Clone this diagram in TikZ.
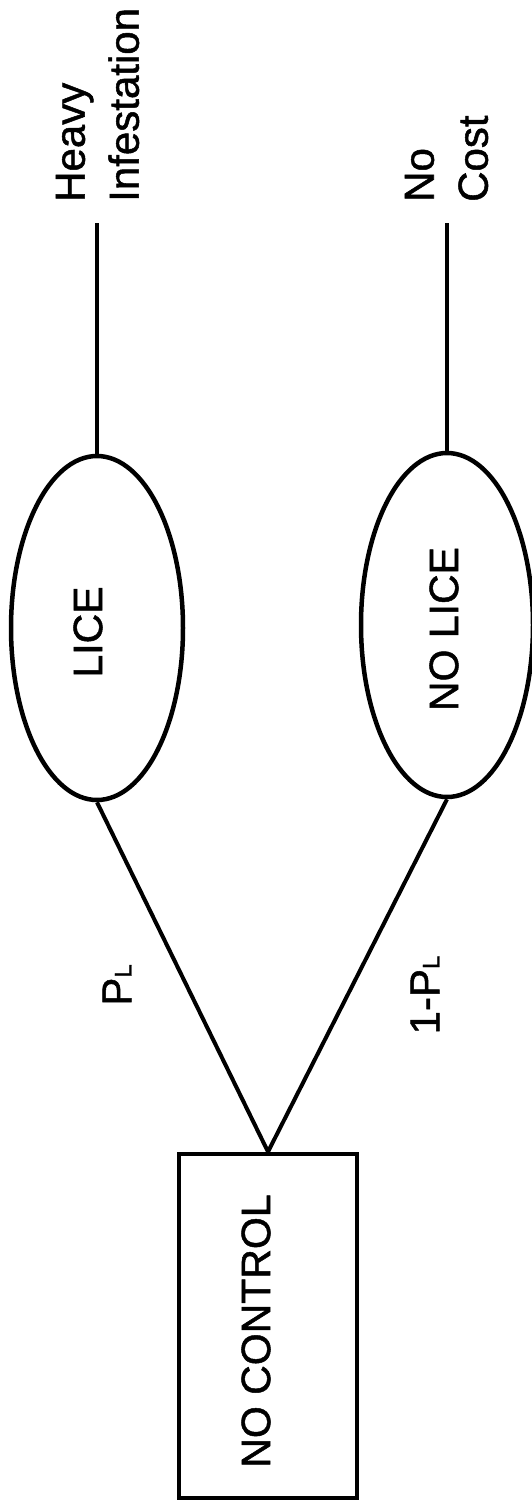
\documentclass[tikz,border=0pt]{standalone}
\usepackage{fontspec}
\setmainfont[FakeBold=1.2]{Liberation Sans}
\usetikzlibrary{shapes.geometric}
\begin{document}
\begin{tikzpicture}[x=1pt,y=-1pt,
  conn/.style={line width=4pt},
  chance/.style={draw,ellipse,line width=4.5pt,minimum width=172pt,minimum height=344pt,inner sep=0pt},
  decision/.style={draw,rectangle,line width=4.5pt,minimum width=178pt,minimum height=344pt,inner sep=0pt},
  lbl/.style={rotate=90,inner sep=0pt,font=\fontsize{41}{50}\selectfont},
  prob/.style={rotate=90,inner sep=0pt,font=\fontsize{42}{50}\selectfont},
  outcome/.style={rotate=90,inner sep=0pt,anchor=west,align=left,font=\fontsize{42}{54}\selectfont}]
\useasboundingbox (0,0) rectangle (532,1505);
% decision node
\node[decision] (nc) at (268,1326) {};
\node[lbl] (nctext) at (256,1331) {NO CONTROL};
% chance nodes
\node[chance] (lice) at (97,628) {};
\node[lbl] (licetext) at (88,632) {LICE};
\node[chance] (nolice) at (447,625) {};
\node[lbl] (nolicetext) at (444,629) {NO LICE};
% outcomes
\node[outcome] (heavy) at (97.5,202) {Heavy\\Infestation};
\node[outcome] (nocost) at (446.5,202) {No\\Cost};
\coordinate (heavyend) at (97,223);
\coordinate (nocostend) at (447,223);
% connectors
\draw[conn] (heavyend) -- (lice.north);
\draw[conn] (nocostend) -- (nolice.north);
\draw[conn] (lice.south) -- (nc.north);
\draw[conn] (nolice.south) -- (nc.north);
% probabilities
\node[prob] (pl) at (117,985) {P{\fontsize{24}{24}\selectfont L}};
\node[prob] (onepl) at (425,995) {1-P{\fontsize{24}{24}\selectfont L}};
\end{tikzpicture}
\end{document}
